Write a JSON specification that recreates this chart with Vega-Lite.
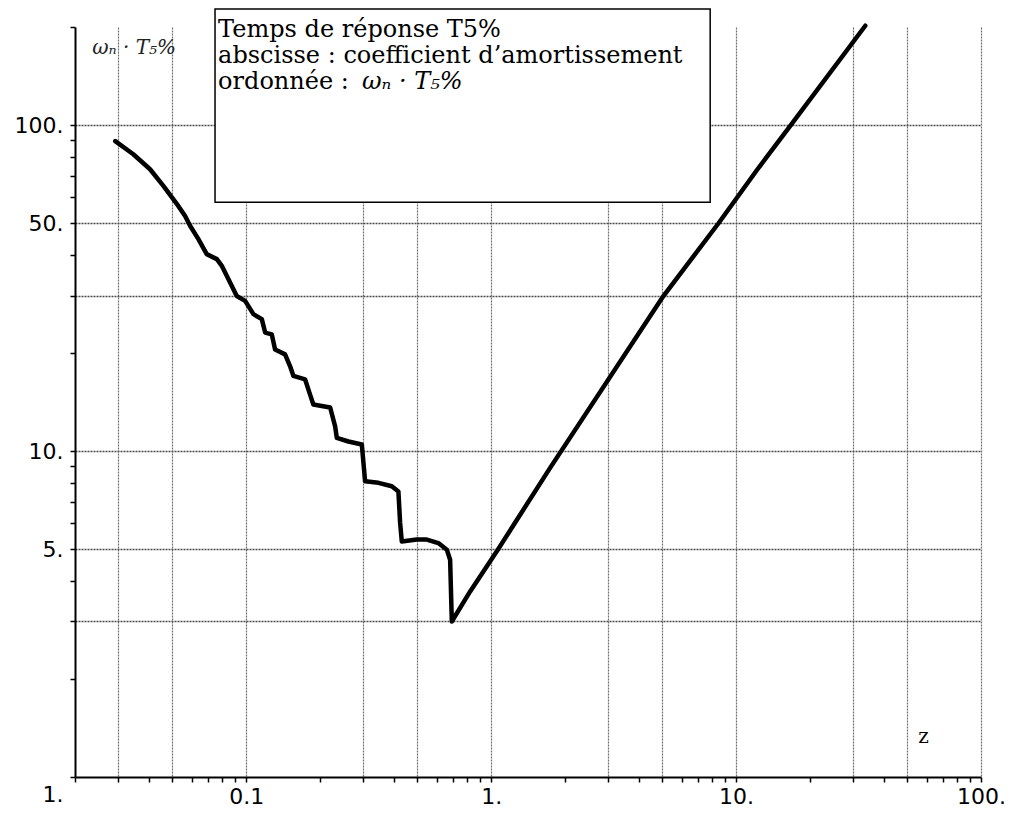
{
  "$schema": "https://vega.github.io/schema/vega-lite/v6.json",
  "width": 906,
  "height": 750,
  "autosize": "none",
  "padding": {"left": 75, "top": 27, "right": 29, "bottom": 36},
  "background": "white",
  "config": {"view": {"stroke": null}},
  "datasets": {
    "curve": [
      {"z": 0.0292, "t": 89.3}, {"z": 0.0346, "t": 81.4}, {"z": 0.0405, "t": 73.2}, {"z": 0.0459, "t": 65.1},
      {"z": 0.0528, "t": 56.5}, {"z": 0.0563, "t": 52.6}, {"z": 0.059, "t": 49.1}, {"z": 0.0638, "t": 44.7},
      {"z": 0.069, "t": 40.2}, {"z": 0.0759, "t": 38.8}, {"z": 0.0795, "t": 37.0}, {"z": 0.0915, "t": 29.9},
      {"z": 0.099, "t": 28.9}, {"z": 0.107, "t": 26.3}, {"z": 0.1158, "t": 25.4}, {"z": 0.1195, "t": 23.1},
      {"z": 0.1272, "t": 22.8}, {"z": 0.1312, "t": 20.5}, {"z": 0.1441, "t": 19.8}, {"z": 0.1511, "t": 18.2},
      {"z": 0.1559, "t": 17.0}, {"z": 0.1739, "t": 16.6}, {"z": 0.1823, "t": 14.9}, {"z": 0.188, "t": 13.9},
      {"z": 0.2202, "t": 13.6}, {"z": 0.2307, "t": 11.9}, {"z": 0.2344, "t": 10.98}, {"z": 0.2615, "t": 10.7},
      {"z": 0.2965, "t": 10.47}, {"z": 0.3058, "t": 8.08}, {"z": 0.3466, "t": 7.99}, {"z": 0.393, "t": 7.8},
      {"z": 0.4182, "t": 7.52}, {"z": 0.425, "t": 6.02}, {"z": 0.4318, "t": 5.28}, {"z": 0.4971, "t": 5.35},
      {"z": 0.5463, "t": 5.35}, {"z": 0.6091, "t": 5.22}, {"z": 0.6594, "t": 4.98}, {"z": 0.6801, "t": 4.64},
      {"z": 0.691, "t": 3.0}, {"z": 0.821, "t": 3.71}, {"z": 1.068, "t": 5.0}, {"z": 1.741, "t": 8.88},
      {"z": 5.05, "t": 29.9}, {"z": 8.48, "t": 50.0}, {"z": 12.17, "t": 72.8}, {"z": 16.64, "t": 99.5},
      {"z": 33.7, "t": 201.8}
    ]
  },
  "layer": [
    {
      "data": {"name": "curve"},
      "mark": {"type": "line", "color": "black", "strokeWidth": 4.5, "strokeJoin": "round", "strokeCap": "round"},
      "encoding": {
        "x": {
          "field": "z", "type": "quantitative",
          "scale": {"type": "log", "domain": [0.02, 100], "nice": false},
          "axis": {
            "values": [0.02,0.03,0.04,0.05,0.06,0.07,0.08,0.09,0.1,0.2,0.3,0.4,0.5,0.6,0.7,0.8,0.9,1,2,3,4,5,6,7,8,9,10,20,30,40,50,60,70,80,90,100],
            "labelExpr": "datum.value == 0.1 ? '0.1' : datum.value == 1 ? '1.' : datum.value == 10 ? '10.' : datum.value == 100 ? '100.' : ''",
            "grid": true,
            "gridOpacity": {"condition": {"test": "indexof([0.03,0.05,0.1,0.3,0.5,1,3,5,10,30,50,100], datum.value) >= 0", "value": 1}, "value": 0},
            "gridColor": "#6e6e6e", "gridDash": [2, 1], "gridWidth": 1.2,
            "domainColor": "black", "domainWidth": 2,
            "tickColor": "black", "tickWidth": 1.5, "tickSize": 5,
            "labelFont": "DejaVu Sans", "labelFontSize": 22, "labelColor": "black", "labelPadding": 4,
            "labelOverlap": false, "labelFlush": false, "labelBound": false,
            "title": null
          }
        },
        "y": {
          "field": "t", "type": "quantitative",
          "scale": {"type": "log", "domain": [1, 200], "nice": false},
          "axis": {
            "values": [1,2,3,4,5,6,7,8,9,10,20,30,40,50,60,70,80,90,100,200],
            "labelExpr": "datum.value == 1 ? '1.' : datum.value == 5 ? '5.' : datum.value == 10 ? '10.' : datum.value == 50 ? '50.' : datum.value == 100 ? '100.' : ''",
            "grid": true,
            "gridOpacity": {"condition": {"test": "indexof([3,5,10,30,50,100], datum.value) >= 0", "value": 1}, "value": 0},
            "gridColor": "#4a4a4a", "gridDash": [2, 1], "gridWidth": 1.4,
            "domainColor": "black", "domainWidth": 2,
            "tickColor": "black", "tickWidth": 1.5, "tickSize": 5,
            "labelFont": "DejaVu Sans", "labelFontSize": 22, "labelColor": "black", "labelPadding": 7,
            "labelOffset": {"condition": {"test": "datum.value == 1", "value": 17}, "value": 0},
            "labelOverlap": false, "labelFlush": false, "labelBound": false,
            "title": null
          }
        }
      }
    },
    {
      "data": {"values": [{}]},
      "mark": {"type": "rect", "fill": "white", "stroke": "black", "strokeWidth": 1.5},
      "encoding": {
        "x": {"datum": 0.0746, "type": "quantitative", "scale": {"type": "log", "domain": [0.02, 100], "nice": false}},
        "x2": {"datum": 7.84},
        "y": {"datum": 227.2, "type": "quantitative", "scale": {"type": "log", "domain": [1, 200], "nice": false}},
        "y2": {"datum": 58.0}
      }
    },
    {
      "data": {"values": [{}]},
      "mark": {"type": "text", "text": ["Temps de réponse T5%", "abscisse : coefficient d’amortissement", "ordonnée :"], "font": "DejaVu Serif", "fontSize": 24, "lineHeight": 26, "align": "left", "baseline": "alphabetic", "color": "black"},
      "encoding": {
        "x": {"datum": 0.0768, "type": "quantitative", "scale": {"type": "log", "domain": [0.02, 100], "nice": false}},
        "y": {"datum": 186.3, "type": "quantitative", "scale": {"type": "log", "domain": [1, 200], "nice": false}}
      }
    },
    {
      "data": {"values": [{}]},
      "mark": {"type": "text", "text": "ωₙ · T₅%", "font": "DejaVu Serif", "fontStyle": "italic", "fontSize": 24, "align": "left", "baseline": "alphabetic", "color": "black"},
      "encoding": {
        "x": {"datum": 0.297, "type": "quantitative", "scale": {"type": "log", "domain": [0.02, 100], "nice": false}},
        "y": {"datum": 129.0, "type": "quantitative", "scale": {"type": "log", "domain": [1, 200], "nice": false}}
      }
    },
    {
      "data": {"values": [{}]},
      "mark": {"type": "text", "text": "ωₙ · T₅%", "font": "DejaVu Serif", "fontStyle": "italic", "fontSize": 20, "align": "left", "baseline": "alphabetic", "color": "#222222"},
      "encoding": {
        "x": {"datum": 0.0235, "type": "quantitative", "scale": {"type": "log", "domain": [0.02, 100], "nice": false}},
        "y": {"datum": 165.2, "type": "quantitative", "scale": {"type": "log", "domain": [1, 200], "nice": false}}
      }
    },
    {
      "data": {"values": [{}]},
      "mark": {"type": "text", "text": "z", "font": "DejaVu Serif", "fontSize": 20, "align": "left", "baseline": "alphabetic", "color": "black"},
      "encoding": {
        "x": {"datum": 55.4, "type": "quantitative", "scale": {"type": "log", "domain": [0.02, 100], "nice": false}},
        "y": {"datum": 1.272, "type": "quantitative", "scale": {"type": "log", "domain": [1, 200], "nice": false}}
      }
    }
  ]
}
